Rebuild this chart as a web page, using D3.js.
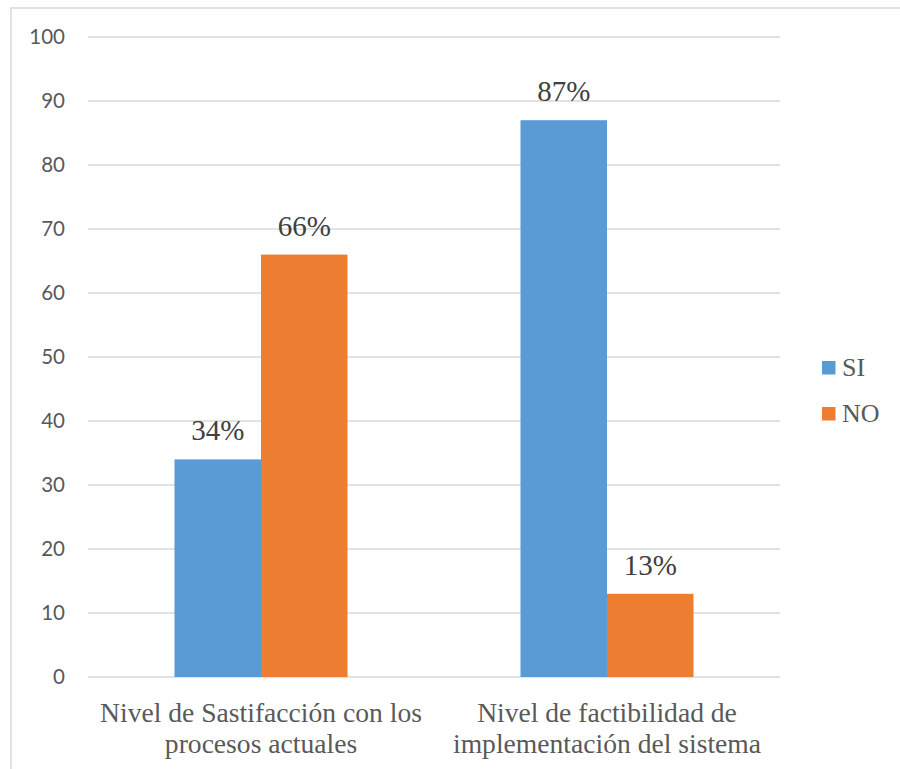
<!DOCTYPE html>
<html>
<head>
<meta charset="utf-8">
<script src="https://cdn.jsdelivr.net/npm/d3@7"></script>
</head>
<body style="margin:0">
<svg id="chart" width="900" height="769" style="display:block"></svg>
<script>
// Survey results: share of answers per question (percent)
const categories = [
  ["Nivel de Sastifacción con los", "procesos actuales"],
  ["Nivel de factibilidad de", "implementación del sistema"]
];
const seriesNames = ["SI", "NO"];
const siValues = [34, 87];
const noValues = [66, 13];
const yTicks = [0, 10, 20, 30, 40, 50, 60, 70, 80, 90, 100];
const colors = { SI: "#5b9bd5", NO: "#ed7d31" };

const SERIF = '"Liberation Serif"';
const SANS = '"Lato"';

const svg = d3.select("#chart");

// Chart frame
svg.append("rect")
  .attr("x", 11).attr("y", 8)
  .attr("width", 900).attr("height", 800)
  .attr("fill", "none")
  .attr("stroke", "#d9d9d9")
  .attr("stroke-width", 1.5);

const plot = { left: 88, right: 780, top: 37, bottom: 677 };

const x0 = d3.scaleBand()
  .domain(d3.range(categories.length))
  .range([plot.left, plot.right])
  .paddingInner(0.5)
  .paddingOuter(0.25);

const x1 = d3.scaleBand()
  .domain(seriesNames)
  .range([0, x0.bandwidth()]);

const y = d3.scaleLinear().domain([0, 100]).range([plot.bottom, plot.top]);

// Horizontal gridlines
svg.selectAll("line.grid")
  .data(yTicks)
  .join("line")
  .attr("class", "grid")
  .attr("x1", plot.left).attr("x2", plot.right)
  .attr("y1", d => y(d)).attr("y2", d => y(d))
  .attr("stroke", "#d9d9d9")
  .attr("stroke-width", 1.3);

// Y axis labels (positioned by the linear scale)
svg.selectAll("text.ytick")
  .data(yTicks)
  .join("text")
  .attr("class", "ytick")
  .attr("x", 65)
  .attr("y", d => y(d))
  .attr("dy", "0.35em")
  .attr("text-anchor", "end")
  .attr("fill", "#595959")
  .style("font-family", SANS)
  .style("font-size", "20.5px")
  .text(d => d);

// Flattened bar records
const bars = [];
categories.forEach((c, i) => {
  bars.push({ i, key: "SI", value: siValues[i] });
  bars.push({ i, key: "NO", value: noValues[i] });
});
const barX = d => x0(d.i) + x1(d.key);

svg.selectAll("rect.bar")
  .data(bars)
  .join("rect")
  .attr("class", "bar")
  .attr("x", barX)
  .attr("width", x1.bandwidth())
  .attr("y", d => y(d.value))
  .attr("height", d => y(0) - y(d.value))
  .attr("fill", d => colors[d.key]);

// Value labels
svg.selectAll("text.value")
  .data(bars)
  .join("text")
  .attr("class", "value")
  .attr("x", d => barX(d) + x1.bandwidth() / 2)
  .attr("y", d => y(d.value) - 19)
  .attr("text-anchor", "middle")
  .attr("fill", "#404040")
  .style("font-family", SERIF)
  .style("font-size", "29px")
  .text(d => d.value + "%");

// Category labels, two lines each
const catLines = [];
categories.forEach((lines, i) => lines.forEach((t, j) => catLines.push({ i, j, t })));
svg.selectAll("text.cat")
  .data(catLines)
  .join("text")
  .attr("class", "cat")
  .attr("x", d => x0(d.i) + x0.bandwidth() / 2)
  .attr("y", d => 722 + d.j * 31)
  .attr("text-anchor", "middle")
  .attr("fill", "#595959")
  .style("font-family", SERIF)
  .style("font-size", "27.6px")
  .text(d => d.t);

// Legend
svg.selectAll("rect.key")
  .data(seriesNames)
  .join("rect")
  .attr("class", "key")
  .attr("x", 822)
  .attr("y", (d, i) => 361 + i * 46)
  .attr("width", 13.5).attr("height", 13.5)
  .attr("fill", d => colors[d]);
svg.selectAll("text.key")
  .data(seriesNames)
  .join("text")
  .attr("class", "key")
  .attr("x", 842)
  .attr("y", (d, i) => 376 + i * 46)
  .attr("fill", "#595959")
  .style("font-family", SERIF)
  .style("font-size", "26px")
  .text(d => d);
</script>
</body>
</html>
